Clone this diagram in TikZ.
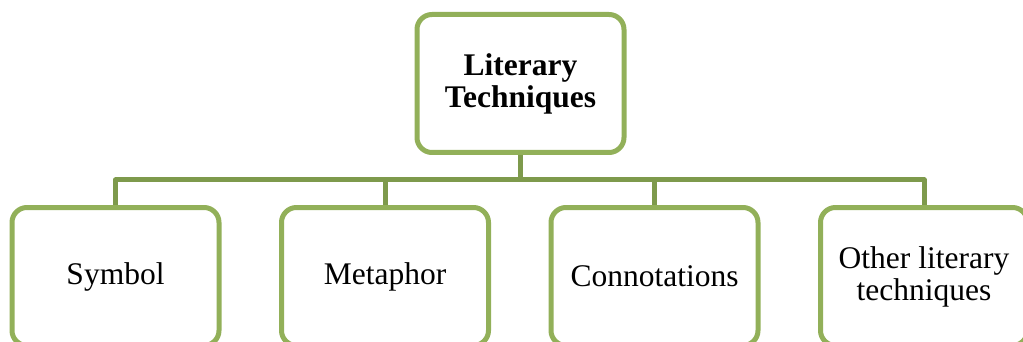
\documentclass[tikz,border=0pt]{standalone}
\usepackage{fontspec}
\setmainfont{Liberation Serif}
\definecolor{boxgreen}{HTML}{92B059}
\definecolor{linkgreen}{HTML}{7E9A4C}
\begin{document}
\begin{tikzpicture}[x=1pt,y=-1pt,
  box/.style={draw=boxgreen, line width=5pt, rounded corners=15pt, fill=white,
    minimum width=207pt, minimum height=138pt, inner sep=0pt, align=center,
    font=\fontsize{31.5}{32}\selectfont},
  conn/.style={draw=linkgreen, line width=5pt, line join=round}]
  \useasboundingbox (0,0) rectangle (1023,342);
  \clip (0,0) rectangle (1023,342);
  % tree links
  \coordinate (bus) at (0,180);
  \node[box] (top) at (520.5,83.5) {\textbf{Literary}\\\textbf{Techniques}};
  \node[box] (c1) at (115.5,276.5) {Symbol};
  \node[box] (c2) at (385,276.5) {Metaphor};
  \node[box] (c3) at (654.5,276.5) {Connotations};
  \node[box] (c4) at (924,276.5) {Other literary\\techniques};
  \draw[conn] (top.south) -- (top.south |- bus);
  \foreach \c in {c1,c2,c3,c4}
    \draw[conn] (top.south |- bus) -| (\c.north);
\end{tikzpicture}
\end{document}
